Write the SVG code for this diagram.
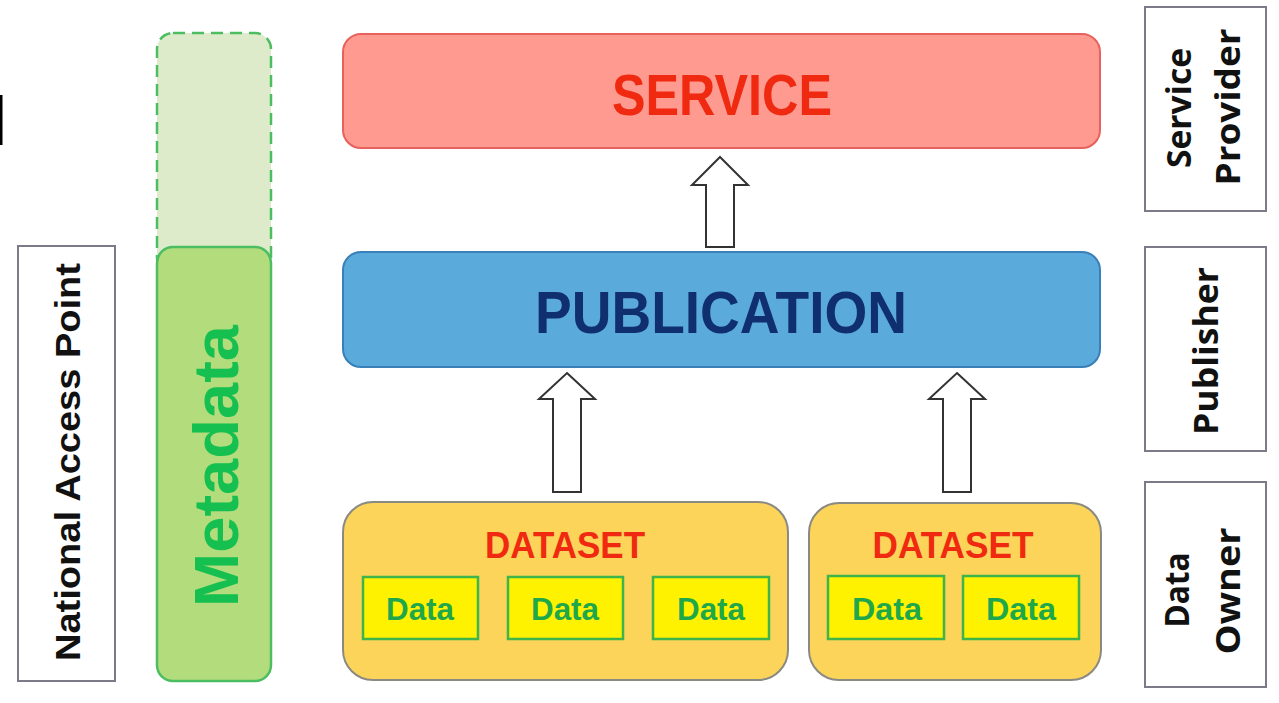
<svg xmlns="http://www.w3.org/2000/svg" width="1279" height="703" viewBox="0 0 1279 703">
<style>
  text { font-family: "Liberation Sans", Arial, sans-serif; font-weight: bold; }
  .lbl { font-family: "Open Sans", "Liberation Sans", sans-serif; font-weight: bold; font-size: 34px; fill: #111; }
  .role { fill: #ffffff; stroke: #7a7a88; stroke-width: 2; }
  .data rect { fill: #FFF200; stroke: #3DB54A; stroke-width: 2.5; }
  .data text { fill: #1FA84A; font-size: 31px; text-anchor: middle; }
  .dataset { fill: #FCD45A; stroke: #8A8A82; stroke-width: 2; }
  .dstitle { fill: #F02A10; font-size: 36px; text-anchor: middle; }
  .arrow { fill: #ffffff; stroke: #333333; stroke-width: 2; stroke-linejoin: miter; }
</style>
<rect width="1279" height="703" fill="#ffffff"/>
<rect x="0" y="95" width="2.5" height="50" fill="#000000"/>

<g id="national-access-point">
  <rect class="role" x="18" y="246" width="97" height="435"/>
  <text transform="translate(80,462) rotate(-90)" text-anchor="middle" font-size="35" fill="#111" textLength="398" lengthAdjust="spacingAndGlyphs">National Access Point</text>
</g>

<g id="metadata">
  <rect x="157" y="33" width="114" height="240" rx="16" fill="#DEEBCA" stroke="#4CBE61" stroke-width="2.5" stroke-dasharray="12 7"/>
  <rect x="157" y="247" width="114" height="434" rx="16" fill="#B3DC7D" stroke="#4CBE61" stroke-width="2.5"/>
  <text transform="translate(238,466) rotate(-90)" text-anchor="middle" font-size="63" fill="#16C050" textLength="282" lengthAdjust="spacingAndGlyphs">Metadata</text>
</g>

<g id="service">
  <rect x="343" y="34" width="757" height="114" rx="18" fill="#FF9A90" stroke="#E8615C" stroke-width="2"/>
  <text x="722" y="115" text-anchor="middle" font-size="58" fill="#F02A10" textLength="220" lengthAdjust="spacingAndGlyphs">SERVICE</text>
</g>

<g id="publication">
  <rect x="343" y="252" width="757" height="115" rx="18" fill="#5BAADC" stroke="#3A80B8" stroke-width="2"/>
  <text x="721" y="333" text-anchor="middle" font-size="60" fill="#0F2F6E" textLength="372" lengthAdjust="spacingAndGlyphs">PUBLICATION</text>
</g>

<g id="dataset-1">
  <rect class="dataset" x="343" y="502" width="445" height="178" rx="30"/>
  <text class="dstitle" x="565" y="558" textLength="160" lengthAdjust="spacingAndGlyphs">DATASET</text>
  <g id="data-1-1" class="data"><rect x="363" y="577" width="115" height="62"/><text x="420" y="620" textLength="68" lengthAdjust="spacingAndGlyphs">Data</text></g>
  <g id="data-1-2" class="data"><rect x="508" y="577" width="115" height="62"/><text x="565" y="620" textLength="68" lengthAdjust="spacingAndGlyphs">Data</text></g>
  <g id="data-1-3" class="data"><rect x="653" y="577" width="116" height="62"/><text x="711" y="620" textLength="68" lengthAdjust="spacingAndGlyphs">Data</text></g>
</g>

<g id="dataset-2">
  <rect class="dataset" x="809" y="503" width="292" height="177" rx="30"/>
  <text class="dstitle" x="953" y="558" textLength="161" lengthAdjust="spacingAndGlyphs">DATASET</text>
  <g id="data-2-1" class="data"><rect x="828" y="576" width="116" height="63"/><text x="887" y="620" textLength="70" lengthAdjust="spacingAndGlyphs">Data</text></g>
  <g id="data-2-2" class="data"><rect x="963" y="576" width="116" height="63"/><text x="1021" y="620" textLength="70" lengthAdjust="spacingAndGlyphs">Data</text></g>
</g>

<g id="service-provider">
  <rect class="role" x="1145" y="7" width="121" height="204"/>
  <text class="lbl" transform="translate(1191,108) rotate(-90)" text-anchor="middle" textLength="120" lengthAdjust="spacingAndGlyphs">Service</text>
  <text class="lbl" transform="translate(1240,107) rotate(-90)" text-anchor="middle" textLength="157" lengthAdjust="spacingAndGlyphs">Provider</text>
</g>

<g id="publisher">
  <rect class="role" x="1145" y="247" width="121" height="204"/>
  <text class="lbl" transform="translate(1218,351) rotate(-90)" text-anchor="middle" textLength="168" lengthAdjust="spacingAndGlyphs">Publisher</text>
</g>

<g id="data-owner">
  <rect class="role" x="1145" y="482" width="121" height="205"/>
  <text class="lbl" transform="translate(1189,590) rotate(-90)" text-anchor="middle" textLength="75" lengthAdjust="spacingAndGlyphs">Data</text>
  <text class="lbl" transform="translate(1240,591) rotate(-90)" text-anchor="middle" textLength="127" lengthAdjust="spacingAndGlyphs">Owner</text>
</g>

<g id="connectors">
  <polygon class="arrow" points="720,157 748,185 734,185 734,247 706,247 706,185 692,185"/>
  <polygon class="arrow" points="567,373 595,399 581,399 581,492 553,492 553,399 539,399"/>
  <polygon class="arrow" points="957,373 985,399 971,399 971,492 943,492 943,399 929,399"/>
</g>
</svg>
